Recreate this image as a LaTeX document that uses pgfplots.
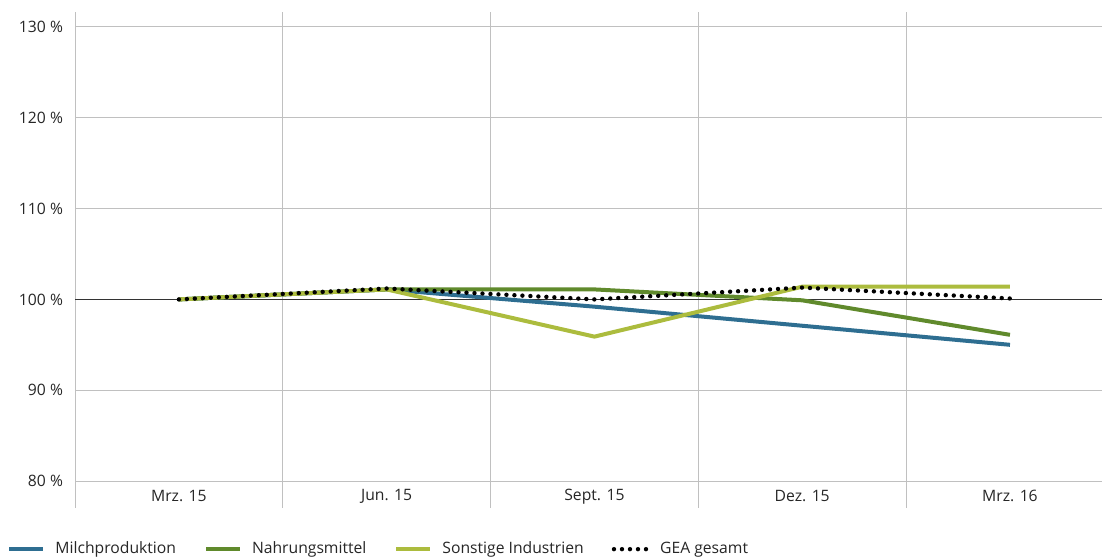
\documentclass[border=0pt]{standalone}
\usepackage{pgfplots}
\pgfplotsset{compat=1.18}
\usepackage{fontspec}
\setmainfont{Open Sans}
\definecolor{milch}{RGB}{46,110,145}
\definecolor{nahrung}{RGB}{96,138,44}
\definecolor{sonst}{RGB}{172,188,62}
\definecolor{gridgray}{RGB}{192,192,192}
\begin{document}
\begin{tikzpicture}
\useasboundingbox (0,0) rectangle (551pt,280pt);
\begin{axis}[
  at={(37.5pt,26pt)}, anchor=south west,
  scale only axis,
  width=513.5pt, height=248pt,
  xmin=-0.5, xmax=4.443,
  ymin=77.03, ymax=131.65,
  axis line style={draw=none},
  major tick length=0pt, minor tick length=0pt,
  xtick={0,1,2,3,4},
  xticklabels={Mrz. 15, Jun. 15, Sept. 15, Dez. 15, Mrz. 16},
  minor xtick={-0.5,0.5,1.5,2.5,3.5},
  xminorgrids,
  ytick={80,90,100,110,120,130},
  yticklabels={80 \%, 90 \%, 100 \%, 110 \%, 120 \%, 130 \%},
  ymajorgrids,
  grid style={gridgray, line width=0.5pt},
  minor grid style={gridgray, line width=0.5pt},
  tick label style={font=\fontsize{7.85}{9}\selectfont, text=black!85},
  yticklabel style={xshift=-2.5pt},
  xticklabel style={anchor=center, yshift=5.8pt},
  legend columns=4,
  legend style={at={(-0.072,-0.083)}, anchor=west, draw=none, fill=none,
    font=\fontsize{7.85}{9}\selectfont, text=black!85,
    /tikz/every odd column/.append style={column sep=3pt},
    /tikz/every even column/.append style={column sep=12pt}},
  legend image code/.code={\draw[#1] (0pt,0pt) -- (17pt,0pt);},
  every axis plot/.append style={line width=2pt},
]
\addplot[black!80, line width=0.6pt, forget plot] coordinates {(-0.5,100) (4.443,100)};
\addplot[milch] coordinates {(0,100) (1,101.1) (2,99.2) (3,97.1) (4,95.0)};
\addlegendentry{Milchproduktion}
\addplot[nahrung] coordinates {(0,100) (1,101.1) (2,101.1) (3,99.9) (4,96.1)};
\addlegendentry{Nahrungsmittel}
\addplot[sonst] coordinates {(0,100) (1,101.1) (2,95.9) (3,101.4) (4,101.4)};
\addlegendentry{Sonstige Industrien}
\addplot[black, line width=2.2pt, line cap=round, dash pattern=on 0pt off 4pt] coordinates {(0,100) (1,101.2) (2,100.0) (3,101.3) (4,100.1)};
\addlegendentry{GEA gesamt}
\end{axis}
\end{tikzpicture}
\end{document}
